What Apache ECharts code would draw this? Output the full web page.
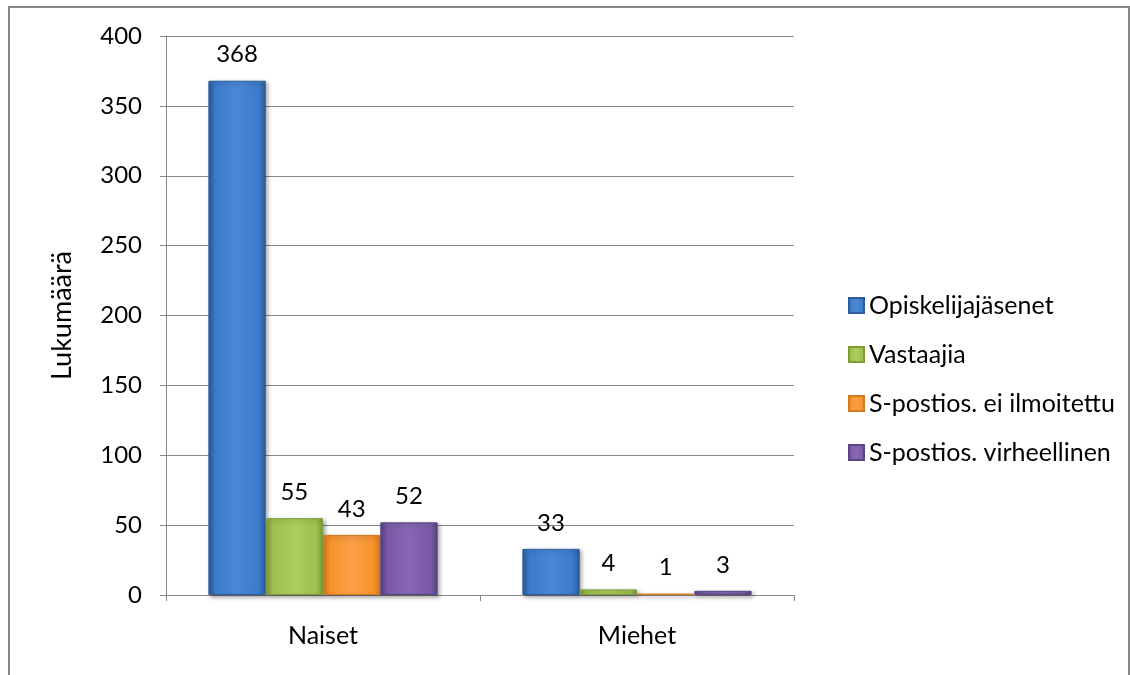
<!DOCTYPE html>
<html>
<head>
<meta charset="utf-8">
<script src="https://cdn.jsdelivr.net/npm/echarts@6/dist/echarts.min.js"></script>
<style>
  html, body { margin: 0; padding: 0; background: #fff; }
  #chart { width: 1130px; height: 675px; }
</style>
</head>
<body>
<div id="chart"></div>
<script>
// Jäsenmäärät sukupuolen mukaan
const categories = ['Naiset', 'Miehet'];
const seriesNames = ['Opiskelijajäsenet', 'Vastaajia', 'S-postios. ei ilmoitettu', 'S-postios. virheellinen'];
const opiskelijajasenet = [368, 33];
const vastaajia = [55, 4];
const eiIlmoitettu = [43, 1];
const virheellinen = [52, 3];
const yTicks = [0, 50, 100, 150, 200, 250, 300, 350, 400];

const seriesValues = [opiskelijajasenet, vastaajia, eiIlmoitettu, virheellinen];
// edge / centre / highlight shades for each series' bevelled bar
const palette = [
  ['#2C5C9A', '#3D7BCB', '#4A88D6'],
  ['#7E9C3A', '#9DC14E', '#AACF5C'],
  ['#D77A1E', '#F7922C', '#FBA046'],
  ['#5B4480', '#7A5AA8', '#8868B5']
];

function bevel(c) {
  return new echarts.graphic.LinearGradient(0, 0, 1, 0, [
    { offset: 0, color: c[0] },
    { offset: 0.12, color: c[1] },
    { offset: 0.5, color: c[2] },
    { offset: 0.88, color: c[1] },
    { offset: 1, color: c[0] }
  ]);
}

const FONT = 'Lato, "Open Sans", sans-serif';

const chart = echarts.init(document.getElementById('chart'), null, { renderer: 'canvas' });
chart.setOption({
  animation: false,
  backgroundColor: '#fff',
  textStyle: { fontFamily: FONT, color: '#000' },
  graphic: [{
    type: 'rect',
    shape: { x: 9, y: 7, width: 1120, height: 700 },
    style: { fill: 'none', stroke: '#868686', lineWidth: 2 },
    silent: true
  }],
  grid: { left: 166, right: 336, top: 36, bottom: 80 },
  legend: {
    orient: 'vertical',
    left: 843,
    top: 288,
    itemWidth: 15,
    itemHeight: 15,
    itemGap: 24,
    icon: 'rect',
    textStyle: { fontFamily: FONT, fontSize: 25, color: '#000' },
    data: seriesNames
  },
  xAxis: {
    type: 'category',
    data: categories,
    axisLine: { lineStyle: { color: '#868686', width: 1 } },
    axisTick: { show: true, length: 6, inside: false, lineStyle: { color: '#868686' } },
    axisLabel: { fontFamily: FONT, fontSize: 25, color: '#000', margin: 28 },
    splitLine: { show: false }
  },
  yAxis: {
    type: 'value',
    min: 0,
    max: 400,
    interval: 50,
    name: 'Lukumäärä',
    nameLocation: 'middle',
    nameGap: 90,
    nameRotate: 90,
    nameTextStyle: { fontFamily: FONT, fontSize: 27, color: '#000' },
    axisLine: { show: true, lineStyle: { color: '#868686', width: 1 } },
    axisTick: { show: true, length: 6, lineStyle: { color: '#868686' } },
    axisLabel: {
      fontFamily: FONT, fontSize: 24, color: '#000', margin: 24,
      formatter: v => (yTicks.includes(v) ? String(v) : '')
    },
    splitLine: { lineStyle: { color: '#868686', width: 1 } }
  },
  series: seriesNames.map((name, i) => ({
    name,
    type: 'bar',
    data: seriesValues[i],
    barGap: '0%',
    barCategoryGap: '27%',
    itemStyle: {
      color: bevel(palette[i]),
      borderColor: palette[i][0],
      borderWidth: 1,
      shadowColor: 'rgba(0,0,0,0.35)',
      shadowBlur: 4,
      shadowOffsetX: 2,
      shadowOffsetY: 2
    },
    label: {
      show: true,
      position: 'top',
      distance: 14,
      fontFamily: FONT,
      fontSize: 24,
      color: '#000'
    }
  }))
});
</script>
</body>
</html>
